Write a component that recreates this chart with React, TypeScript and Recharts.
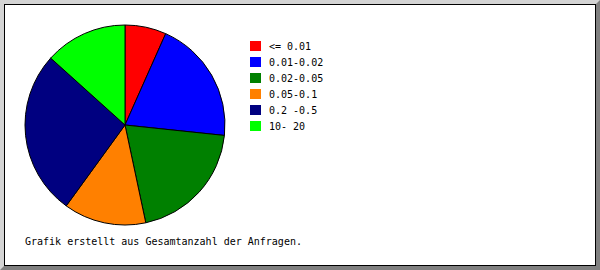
import { PieChart, Pie, Cell, Legend } from "recharts";

const labels = ["<= 0.01", "0.01-0.02", "0.02-0.05", "0.05-0.1", "0.2 -0.5", "10- 20"];
const counts = [5, 15, 15, 10, 20, 10];
const colors = ["#ff0000", "#0000ff", "#008000", "#ff8000", "#000080", "#00ff00"];

const data = labels.map((name, i) => ({ name, value: counts[i] }));

const font = "'DejaVu Sans Mono', 'Liberation Mono', monospace";

function LegendBox() {
  return (
    <div style={{ fontFamily: font, fontSize: 10, color: "#000" }}>
      {labels.map((l, i) => (
        <div key={l} style={{ display: "flex", alignItems: "center", height: 16 }}>
          <div style={{ width: 11, height: 10, background: colors[i], marginRight: 8 }} />
          <span style={{ whiteSpace: "pre" }}>{l}</span>
        </div>
      ))}
    </div>
  );
}

export default function App() {
  return (
    <div
      style={{
        position: "fixed",
        left: 0,
        top: 0,
        width: 600,
        height: 270,
        boxSizing: "border-box",
        borderStyle: "solid",
        borderWidth: 4,
        borderTopColor: "#d4d4d4",
        borderLeftColor: "#d4d4d4",
        borderBottomColor: "#808080",
        borderRightColor: "#808080",
        background: "#d4d4d4",
      }}
    >
      <div
        style={{
          position: "relative",
          width: 592,
          height: 262,
          boxSizing: "border-box",
          border: "1px solid #000",
          background: "#fff",
        }}
      >
        <PieChart width={590} height={260} margin={{ top: 0, right: 0, bottom: 0, left: 0 }}>
          <Pie
            data={data}
            dataKey="value"
            nameKey="name"
            cx={120}
            cy={120}
            outerRadius={100}
            startAngle={90}
            endAngle={-270}
            stroke="#000"
            strokeWidth={1}
            isAnimationActive={false}
          >
            {data.map((d, i) => (
              <Cell key={d.name} fill={colors[i]} />
            ))}
          </Pie>
          <Legend
            content={() => <LegendBox />}
            wrapperStyle={{ position: "absolute", left: 245, top: 33, width: "auto" }}
          />
        </PieChart>
        <div
          style={{
            position: "absolute",
            left: 20,
            top: 231,
            fontFamily: font,
            fontSize: 10,
            color: "#000",
            whiteSpace: "pre",
          }}
        >
          Grafik erstellt aus Gesamtanzahl der Anfragen.
        </div>
      </div>
    </div>
  );
}
